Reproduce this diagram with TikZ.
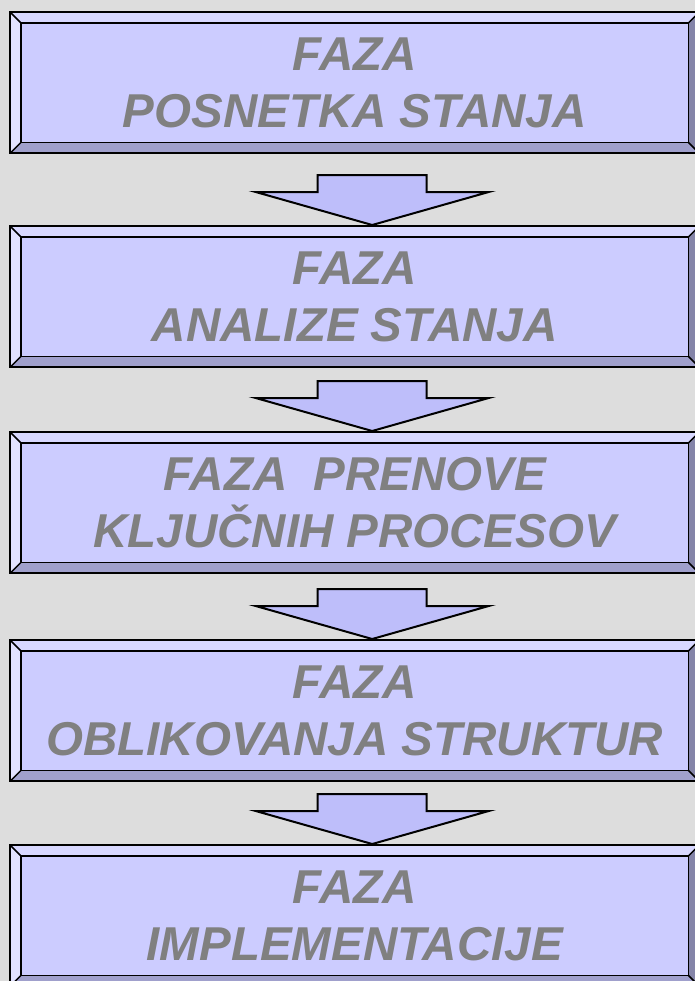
\documentclass[tikz,border=0pt]{standalone}
\usepackage{fontspec}
\setmainfont{Liberation Sans}
\usetikzlibrary{calc}
\definecolor{bg}{HTML}{DDDDDD}
\definecolor{face}{HTML}{CCCCFF}
\definecolor{bevtop}{HTML}{D8D8FF}
\definecolor{bevleft}{HTML}{E2E2FF}
\definecolor{bevbot}{HTML}{A0A0CC}
\definecolor{bevright}{HTML}{8484A8}
\definecolor{arrowfill}{HTML}{BEBEFA}
\definecolor{textgray}{HTML}{808080}
\tikzset{
  phase/.style={anchor=north west, minimum width=689bp, minimum height=141bp,
    inner sep=0pt, fill=face, align=center, text=textgray,
    font=\bfseries\itshape\fontsize{47.5bp}{57bp}\selectfont},
  bevelline/.style={line width=1.5bp, line join=miter},
  outerline/.style={line width=2bp, line join=miter},
  flowarrow/.style={fill=arrowfill, draw=black, line width=2bp, line join=miter}
}
\newcommand\bevelbox[1]{%
  \coordinate (#1ONW) at (#1.north west);
  \coordinate (#1ONE) at (#1.north east);
  \coordinate (#1OSW) at (#1.south west);
  \coordinate (#1OSE) at (#1.south east);
  \coordinate (#1INW) at ($(#1.north west)+(11,11)$);
  \coordinate (#1INE) at ($(#1.north east)+(-11,11)$);
  \coordinate (#1ISW) at ($(#1.south west)+(11,-11)$);
  \coordinate (#1ISE) at ($(#1.south east)+(-11,-11)$);
  \fill[bevtop] (#1ONW) -- (#1ONE) -- (#1INE) -- (#1INW) -- cycle;
  \fill[bevleft] (#1ONW) -- (#1INW) -- (#1ISW) -- (#1OSW) -- cycle;
  \fill[bevbot] (#1OSW) -- (#1ISW) -- (#1ISE) -- (#1OSE) -- cycle;
  \fill[bevright] (#1ONE) -- (#1INE) -- (#1ISE) -- (#1OSE) -- cycle;
  \draw[bevelline] (#1INW) rectangle (#1ISE);
  \draw[bevelline] (#1ONW) -- (#1INW) (#1ONE) -- (#1INE) (#1OSW) -- (#1ISW) (#1OSE) -- (#1ISE);
  \draw[outerline] (#1ONW) rectangle (#1OSE);
}
\newcommand\phasearrow[1]{%
  \draw[flowarrow] ($(#1.north)+(17.5,-1)$) -- ++(-116.5,-33) -- ++(62,0) -- ++(0,-17)
    -- ++(109,0) -- ++(0,17) -- ++(62,0) -- cycle;
}
\begin{document}
\begin{tikzpicture}[x=1bp,y=-1bp]
\fill[bg] (0,0) rectangle (695,981);
\useasboundingbox (0,0) rectangle (695,981);
\node[phase] (b1) at (10,12) {FAZA\\POSNETKA STANJA};
\node[phase] (b2) at (10,226) {FAZA\\ANALIZE STANJA};
\node[phase] (b3) at (10,432) {FAZA\ \ PRENOVE\\KLJUČNIH PROCESOV};
\node[phase] (b4) at (10,640) {FAZA\\OBLIKOVANJA STRUKTUR};
\node[phase] (b5) at (10,845) {FAZA\\IMPLEMENTACIJE};
\bevelbox{b1}
\bevelbox{b2}
\bevelbox{b3}
\bevelbox{b4}
\bevelbox{b5}
\phasearrow{b2}
\phasearrow{b3}
\phasearrow{b4}
\phasearrow{b5}
\end{tikzpicture}
\end{document}
